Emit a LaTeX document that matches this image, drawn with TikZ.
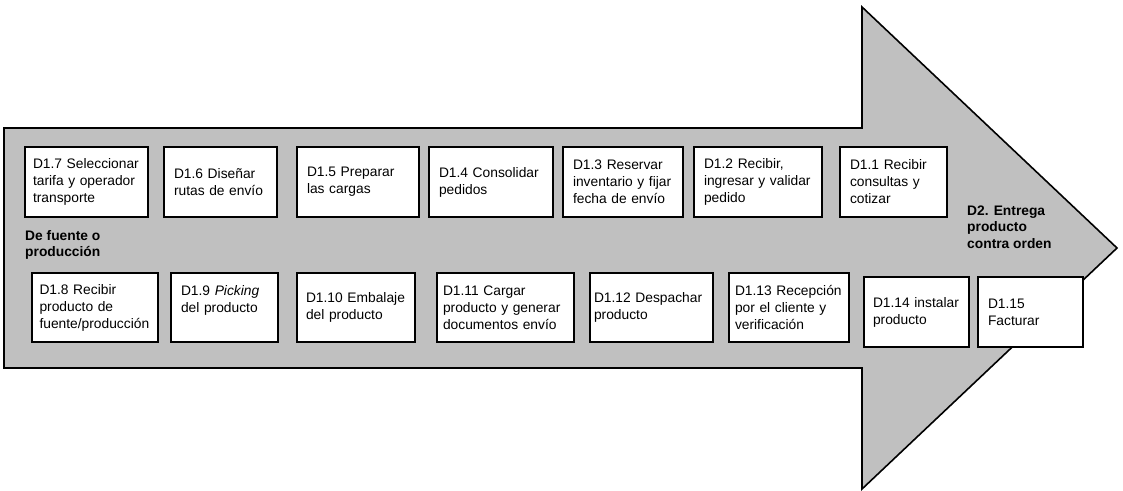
\documentclass[tikz,border=0pt]{standalone}
\usepackage{fontspec}
\setmainfont{Liberation Sans}
\usetikzlibrary{positioning}

\definecolor{fondo}{RGB}{192,192,192}

\tikzset{
        paso/.style={draw, fill=white, line width=1.3pt, align=left, inner xsep=0pt,
                font=\fontsize{13.8}{17}\selectfont},
        etapa/.style={anchor=west, align=left, inner sep=0pt,
                font=\bfseries\fontsize{13.8}{16.5}\selectfont}
}

\begin{document}
\begin{tikzpicture}[x=1pt, y=-1pt]

        \useasboundingbox (0,0) rectangle (1123,490);

        % Flecha
        \draw [fill=fondo, line width=1.6pt, line join=miter]
                (4,128) -- (862,128) -- (862,7) -- (1117,248) -- (862,489) -- (862,368) -- (4,368) -- cycle;

        % Pasos superiores
        \node [paso, minimum width=123pt, minimum height=70pt, text width=107pt] (d17) at (86.5,182) {D1.7 Seleccionar\\tarifa y operador\\transporte};
        \node [paso, minimum width=113pt, minimum height=70pt, text width=93pt] (d16) at (220.5,182) {D1.6 Diseñar\\rutas de envío};
        \node [paso, minimum width=122pt, minimum height=70pt, text width=102pt] (d15) at (358,182) {D1.5 Preparar\\las cargas};
        \node [paso, minimum width=124pt, minimum height=70pt, text width=104pt] (d14) at (491,182) {D1.4 Consolidar\\pedidos};
        \node [paso, minimum width=120pt, minimum height=70pt, text width=100pt] (d13) at (623,182) {D1.3 Reservar\\inventario y fijar\\fecha de envío};
        \node [paso, minimum width=128pt, minimum height=70pt, text width=108pt] (d12) at (758,182) {D1.2 Recibir,\\ingresar y validar\\pedido};
        \node [paso, minimum width=107pt, minimum height=70pt, text width=87pt] (d11) at (893.5,182) {D1.1 Recibir\\consultas y\\cotizar};

        % Pasos inferiores
        \node [paso, minimum width=126pt, minimum height=69pt, text width=111pt] (d18) at (95,307.5) {D1.8 Recibir\\producto de\\fuente/producción};
        \node [paso, minimum width=107pt, minimum height=69pt, text width=87pt] (d19) at (224.5,307.5) {D1.9 \textit{Picking}\\del producto\\\mbox{}};
        \node [paso, minimum width=118pt, minimum height=69pt, text width=100pt] (d110) at (356,307.5) {D1.10 Embalaje\\del producto};
        \node [paso, minimum width=137pt, minimum height=69pt, text width=125pt] (d111) at (505.5,307.5) {D1.11 Cargar\\producto y generar\\documentos envío};
        \node [paso, minimum width=123pt, minimum height=69pt, text width=115pt] (d112) at (651.5,307.5) {D1.12 Despachar\\producto};
        \node [paso, minimum width=120pt, minimum height=69pt, text width=108pt] (d113) at (789,307.5) {D1.13 Recepción\\por el cliente y\\verificación};
        \node [paso, minimum width=105pt, minimum height=70pt, text width=87pt] (d114) at (916.5,312) {D1.14 instalar\\producto};
        \node [paso, minimum width=105pt, minimum height=70pt, text width=85pt] (d115) at (1030.5,312) {D1.15\\Facturar};

        % Etiquetas
        \node [etapa] (fuente) at (25,245) {De fuente o\\producción};
        \node [etapa] (entrega) at (967,227) {D2. Entrega\\producto\\contra orden};

\end{tikzpicture}
\end{document}
